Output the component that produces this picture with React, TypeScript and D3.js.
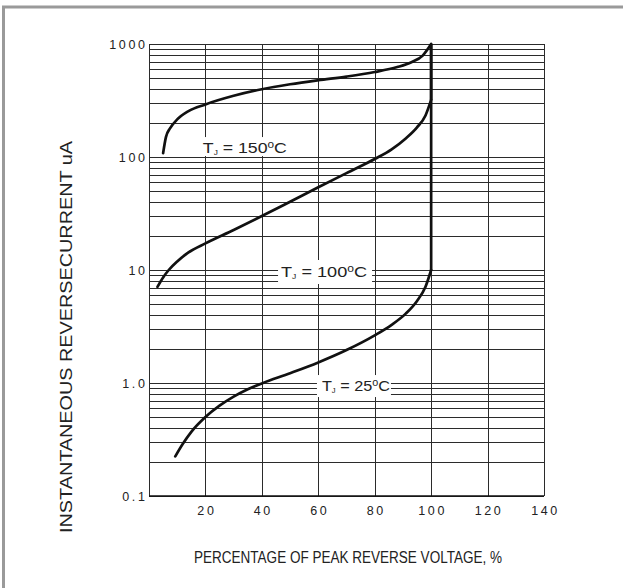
import React from "react";
import * as d3 from "d3";

const xTickValues = [20, 40, 60, 80, 100, 120, 140];
const xGridValues = [0, 20, 40, 60, 80, 100, 120, 140];
const yTickValues = [0.1, 1, 10, 100, 1000];
const yTickLabels = ["0.1", "1.0", "10", "100", "1000"];

const curve150X = [5, 6, 7.5, 10, 14, 20, 30, 40, 50, 60, 70, 80, 88, 93, 97, 100];
const curve150Y = [108, 150, 180, 215, 255, 292, 348, 398, 440, 478, 515, 565, 625, 690, 790, 1000];

const curve100X = [3, 5, 7, 10, 14, 20, 30, 40, 50, 60, 70, 80, 86, 91, 95, 98, 100];
const curve100Y = [7.1, 8.6, 10, 11.9, 14.3, 17.2, 22.6, 30, 40.2, 54, 72, 96, 117, 146, 183, 233, 320];

const curve25X = [9.3, 12, 15, 20, 25, 30, 35, 40, 50, 60, 70, 80, 86, 91, 95, 98, 100];
const curve25Y = [0.224, 0.29, 0.37, 0.5, 0.63, 0.757, 0.879, 0.992, 1.22, 1.52, 1.956, 2.64, 3.27, 4.11, 5.32, 7.11, 10];

const curveLabels = ["150", "100", "25"];
// label text start (x, in %) and vertical centre (current, uA)
const labelX = [19.1, 46.8, 61.3];
const labelY = [120, 9.6, 0.94];

const FONT = "'Liberation Sans', Arial, Helvetica, sans-serif";

export default function App() {
  const x = d3.scaleLinear().domain([0, 140]).range([149, 544]);
  const y = d3.scaleLog().domain([0.1, 1000]).range([496, 44]);

  const line = d3
    .line<[number, number]>()
    .x((d) => x(d[0]))
    .y((d) => y(d[1]))
    .curve(d3.curveMonotoneX);

  const series = [
    { xs: curve150X, ys: curve150Y },
    { xs: curve100X, ys: curve100Y },
    { xs: curve25X, ys: curve25Y },
  ];

  const hGrid = y.ticks();

  const boxDx = [-6, -3, -5];
  const boxW = [94, 94, 74];
  const boxDy = [-11, -12, -11];
  const boxH = [19, 24, 22];
  const textLen = [84, 86, 68];

  return (
    <svg
      width={623}
      height={588}
      style={{ position: "absolute", left: 0, top: 0, background: "#fff" }}
    >
      <rect x={3.5} y={7} width={700} height={700} fill="#fff" stroke="#9a9a9a" strokeWidth={3} />

      {hGrid.map((v, i) => (
        <line
          key={"h" + i}
          x1={x(0)}
          x2={x(140)}
          y1={Math.round(y(v)) + 0.5}
          y2={Math.round(y(v)) + 0.5}
          stroke="#2b2b2b"
          strokeWidth={1}
        />
      ))}
      {xGridValues.map((v, i) => (
        <line
          key={"v" + i}
          x1={Math.round(x(v)) + 0.5}
          x2={Math.round(x(v)) + 0.5}
          y1={y(1000)}
          y2={y(0.1)}
          stroke="#2b2b2b"
          strokeWidth={1}
        />
      ))}
      <line x1={x(0)} x2={x(140)} y1={y(0.1)} y2={y(0.1)} stroke="#111" strokeWidth={1.6} />

      {labelX.map((lx, i) => (
        <rect
          key={"b" + i}
          x={x(lx) + boxDx[i]}
          y={y(labelY[i]) + boxDy[i]}
          width={boxW[i]}
          height={boxH[i]}
          fill="#fff"
        />
      ))}

      {series.map((s, i) => {
        const pts: [number, number][] = s.xs.map((xv, j) => [xv, s.ys[j]]);
        const last = pts[pts.length - 1];
        return (
          <g key={"c" + i}>
            <path d={line(pts) || ""} fill="none" stroke="#111" strokeWidth={2.7} strokeLinecap="round" />
            {last[1] < 1000 && (
              <line
                x1={x(last[0])}
                x2={x(last[0])}
                y1={y(last[1])}
                y2={y(1000)}
                stroke="#111"
                strokeWidth={2.7}
              />
            )}
          </g>
        );
      })}

      {labelX.map((lx, i) => (
        <text
          key={"l" + i}
          x={x(lx)}
          y={y(labelY[i]) + 5}
          fontFamily={FONT}
          fontSize={15}
          fill="#222"
          textLength={textLen[i]}
          lengthAdjust="spacingAndGlyphs"
        >
          T
          <tspan fontSize={7} dy={2}>J</tspan>
          <tspan dy={-2}>{" = " + curveLabels[i]}</tspan>
          <tspan fontSize={10} dy={-5}>o</tspan>
          <tspan dy={5}>C</tspan>
        </text>
      ))}

      {yTickValues.map((v, i) => (
        <text
          key={"yt" + i}
          x={147.5}
          y={y(v) + 4.5}
          textAnchor="end"
          fontFamily={FONT}
          fontSize={12.5}
          letterSpacing={2.6}
          fill="#222"
        >
          {yTickLabels[i]}
        </text>
      ))}

      {xTickValues.map((v, i) => (
        <text
          key={"xt" + i}
          x={x(v) + 1.5}
          y={515}
          textAnchor="middle"
          fontFamily={FONT}
          fontSize={12.5}
          letterSpacing={2.6}
          fill="#222"
        >
          {String(v)}
        </text>
      ))}

      <text
        x={348}
        y={563}
        textAnchor="middle"
        fontFamily={FONT}
        fontSize={16}
        textLength={308}
        lengthAdjust="spacingAndGlyphs"
        fill="#222"
      >
        PERCENTAGE OF PEAK REVERSE VOLTAGE, %
      </text>
      <text
        transform="translate(72,337) rotate(-90)"
        textAnchor="middle"
        fontFamily={FONT}
        fontSize={16.5}
        textLength={392}
        lengthAdjust="spacingAndGlyphs"
        fill="#222"
      >
        INSTANTANEOUS REVERSECURRENT uA
      </text>
    </svg>
  );
}
